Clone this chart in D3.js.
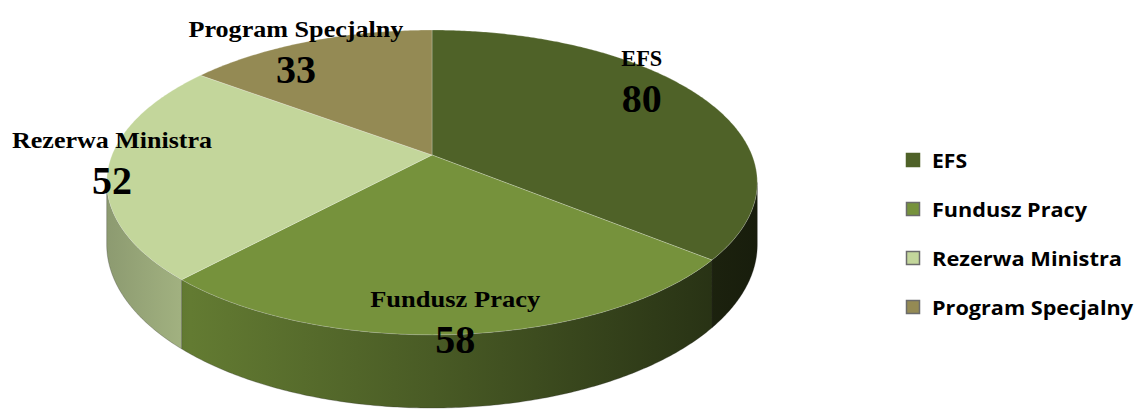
<!DOCTYPE html>
<html>
<head>
<meta charset="utf-8">
<script src="https://cdn.jsdelivr.net/npm/d3@7"></script>
<style>
  html, body { margin: 0; padding: 0; background: #fff; }
  svg { display: block; }
</style>
</head>
<body>
<div id="chart"></div>
<script>
var width = 1140;
var height = 410;

// data
var categories = ["EFS", "Fundusz Pracy", "Rezerwa Ministra", "Program Specjalny"];
var values = [80, 58, 52, 33];
var colors = ["#4f6228", "#76923c", "#c3d69b", "#948a54"];

// layout of the tilted pie (perspective view)
var cx = 432, cy = 155;
var R = 320;      // horizontal radius
var A = 147.5;    // vertical radius
var persp = -0.18; // perspective strength, front is bigger
var depth = 60;   // thickness
var labelR = 0.93;
var labelNudge = [[-41, -20], [-2, 2], [-19, -6], [-20, 3]];
var nameWidth = [41, 170, 200, 215];

var legendX = 906, legendY = 153, legendStep = 49;
var legendWidth = [35, 155, 190, 201];

var proj = function (theta, r, drop) {
  var u = r * Math.sin(theta);
  var v = -r * Math.cos(theta);
  var s = 1 / (1 + persp * v);
  return [cx + R * u * s, cy + A * v * s + (drop || 0) * depth * s];
};

var arcPoints = function (a0, a1, r, drop) {
  var pts = [];
  var n = Math.max(2, Math.ceil(Math.abs(a1 - a0) / 0.01));
  for (var i = 0; i <= n; i++) {
    pts.push(proj(a0 + (a1 - a0) * i / n, r, drop));
  }
  return pts;
};

var svg = d3.select("#chart").append("svg")
  .attr("width", width).attr("height", height);

var pie = d3.pie().sort(null).value(function (d) { return d; });
var slices = pie(values);
var line = d3.line();

// side shading gradients
var defs = svg.append("defs");
var shade = [[0, 0.72], [0.13, 0.84], [0.5, 0.62], [1, 0.3]];
colors.forEach(function (c, i) {
  var g = defs.append("linearGradient")
    .attr("id", "side" + i)
    .attr("gradientUnits", "userSpaceOnUse")
    .attr("x1", cx - R * 1.02).attr("x2", cx + R * 1.02)
    .attr("y1", 0).attr("y2", 0);
  var base = d3.rgb(c);
  shade.forEach(function (s) {
    g.append("stop").attr("offset", s[0])
      .attr("stop-color", d3.rgb(base.r * s[1], base.g * s[1], base.b * s[1]).formatHex());
  });
});

// visible part of the wall
var visLo = Math.acos(persp);
var visHi = 2 * Math.PI - visLo;

var sides = svg.append("g");
slices.forEach(function (d, i) {
  var lo = Math.max(d.startAngle, visLo);
  var hi = Math.min(d.endAngle, visHi);
  if (hi <= lo) return;
  var pts = arcPoints(lo, hi, 1, 0).concat(arcPoints(hi, lo, 1, 1));
  sides.append("path")
    .attr("d", line(pts) + "Z")
    .attr("fill", "url(#side" + i + ")")
    .attr("stroke", "rgba(40,40,40,0.35)")
    .attr("stroke-width", 0.8);
});

var tops = svg.append("g");
slices.forEach(function (d, i) {
  var pts = [proj(0, 0, 0)].concat(arcPoints(d.startAngle, d.endAngle, 1, 0));
  tops.append("path")
    .attr("d", line(pts) + "Z")
    .attr("fill", colors[i])
    .attr("stroke", "rgba(255,255,255,0.3)")
    .attr("stroke-width", 0.8);
});

// data labels
var labels = svg.append("g")
  .attr("font-family", "'Liberation Serif', 'Times New Roman', serif")
  .attr("font-weight", "bold")
  .attr("text-anchor", "middle")
  .attr("fill", "#000");
slices.forEach(function (d, i) {
  var mid = (d.startAngle + d.endAngle) / 2;
  var p = proj(mid, labelR, 0);
  var x = p[0] + labelNudge[i][0];
  var y = p[1] + labelNudge[i][1];
  labels.append("text")
    .attr("x", x).attr("y", y - 14)
    .attr("font-size", 23)
    .attr("textLength", nameWidth[i])
    .attr("lengthAdjust", "spacingAndGlyphs")
    .text(categories[i]);
  labels.append("text")
    .attr("x", x).attr("y", y + 32)
    .attr("font-size", 40)
    .text(values[i]);
});

// legend
var legend = svg.append("g")
  .attr("font-family", "'Open Sans', Lato, sans-serif")
  .attr("font-weight", "bold");
categories.forEach(function (c, i) {
  var y = legendY + i * legendStep;
  legend.append("rect")
    .attr("x", legendX + 0.5).attr("y", y + 0.5)
    .attr("width", 13).attr("height", 13)
    .attr("fill", colors[i])
    .attr("stroke", i === 0 ? colors[i] : "#6b6b6b")
    .attr("stroke-width", 1.5);
  legend.append("text")
    .attr("x", 932).attr("y", y + 14.5)
    .attr("font-size", 19)
    .attr("fill", "#000")
    .attr("textLength", legendWidth[i])
    .attr("lengthAdjust", "spacingAndGlyphs")
    .text(c);
});
</script>
</body>
</html>
